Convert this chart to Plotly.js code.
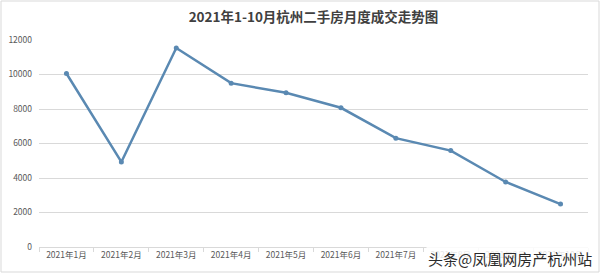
<!DOCTYPE html>
<html>
<head>
<meta charset="utf-8">
<script src="https://cdn.plot.ly/plotly-3.0.1.min.js"></script>
<style>html,body{margin:0;padding:0;background:#fff;}#chart{width:600px;height:273px;}</style>
</head>
<body>
<div id="chart"></div>
<script>
const months = ["2021年1月","2021年2月","2021年3月","2021年4月","2021年5月","2021年6月","2021年7月","2021年8月","2021年9月","2021年10月"];
const volumes = [10060, 4930, 11540, 9500, 8940, 8070, 6310, 5590, 3770, 2490];
const yTicks = [0, 2000, 4000, 6000, 8000, 10000, 12000];

const font = '"Noto Sans CJK SC", "Microsoft YaHei", sans-serif';
const trace = {
  x: months, y: volumes, type: 'scatter', mode: 'lines+markers',
  line: {color: '#5a89b2', width: 2.5},
  marker: {color: '#5a89b2', size: 5},
  hoverinfo: 'x+y'
};
const L = 39, R = 12, T = 40, B = 26, W = 600, H = 273;
const pw = W - L - R, ph = H - T - B;
const layout = {
  width: W, height: H,
  margin: {l: L, r: R, t: T, b: B, pad: 0},
  paper_bgcolor: '#fff', plot_bgcolor: '#fff',
  showlegend: false,
  title: {text: '<b>2021年1-10月杭州二手房月度成交走势图</b>', x: 0.5, xref: 'paper', xanchor: 'center', y: 1 - 17/H, yref: 'container', yanchor: 'middle',
    font: {family: font, size: 13.5, color: '#404040'}},
  xaxis: {type: 'category', range: [-0.5, 9.5], showgrid: false, zeroline: false,
    showline: true, linecolor: '#d9d9d9', linewidth: 1,
    ticks: 'outside', tickson: 'boundaries', ticklen: 4, tickcolor: '#d9d9d9',
    tickfont: {family: font, size: 8.5, color: '#595959'}, fixedrange: true},
  yaxis: {range: [0, 12000], tickvals: yTicks, ticktext: yTicks.map(String),
    showgrid: true, gridcolor: '#d9d9d9', gridwidth: 1, zeroline: false, showline: false,
    ticks: '', ticklabelstandoff: 6,
    tickfont: {family: font, size: 8.5, color: '#595959'}, fixedrange: true},
  shapes: [{type: 'rect', xref: 'paper', yref: 'paper',
    x0: -(L - 1) / pw, x1: 1 + (R - 1) / pw, y0: -(B - 1) / ph, y1: 1 + (T - 1) / ph,
    line: {color: '#d9d9d9', width: 1}, fillcolor: 'rgba(0,0,0,0)', layer: 'below'}],
  annotations: [{text: '头条@凤凰网房产杭州站', xref: 'paper', yref: 'paper',
    x: 1 + (R - 6) / pw, xanchor: 'right', y: -(B - 15) / ph, yanchor: 'middle', showarrow: false,
    font: {family: font, size: 15, color: '#2b2b2b'}, bgcolor: 'rgba(255,255,255,0.85)'}]
};
Plotly.newPlot('chart', [trace], layout, {displayModeBar: false, staticPlot: true});
</script>
</body>
</html>
